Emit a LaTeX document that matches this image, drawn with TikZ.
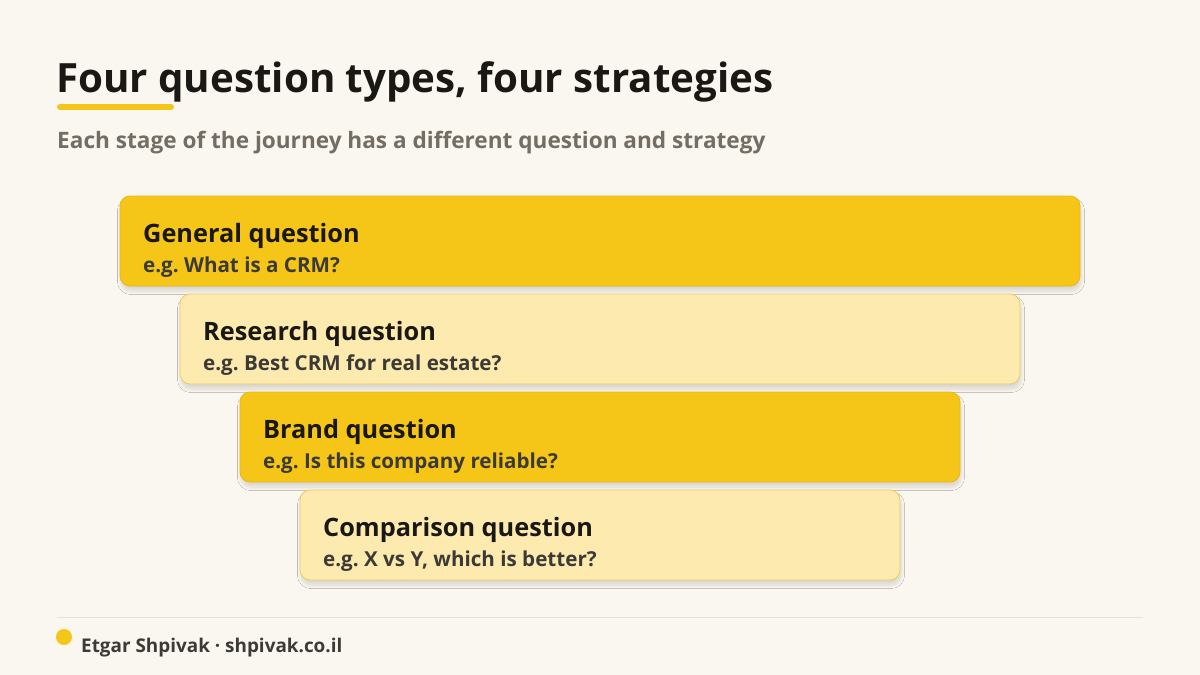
\documentclass[tikz,border=0pt]{standalone}
\usepackage{fontspec}
\setmainfont{Open Sans}
\usetikzlibrary{shadows.blur}
\frenchspacing
\definecolor{bg}{HTML}{FAF7F0}
\definecolor{gold}{HTML}{F5C518}
\definecolor{goldedge}{HTML}{E9B915}
\definecolor{pale}{HTML}{FCEAAF}
\definecolor{paleedge}{HTML}{EBCB63}
\definecolor{ink}{HTML}{1A1814}
\definecolor{subink}{HTML}{3C3A36}
\definecolor{muted}{HTML}{736D63}
\definecolor{rule}{HTML}{E6E1D8}
\tikzset{
  stagebox/.style={rounded corners=10pt, line width=0.8pt, blur shadow={shadow xshift=1pt, shadow yshift=-5pt, shadow blur steps=10, shadow opacity=13, shadow blur radius=3.5pt}},
  darkbox/.style={stagebox, fill=gold, draw=goldedge},
  lightbox/.style={stagebox, fill=pale, draw=paleedge},
  headtxt/.style={anchor=base west, inner sep=0pt, text=ink, font=\bfseries\fontsize{25.3}{30}\selectfont},
  subtxt/.style={anchor=base west, inner sep=0pt, text=subink, font=\bfseries\fontsize{20.6}{25}\selectfont},
}
\begin{document}
\begin{tikzpicture}[x=1pt,y=-1pt]
\fill[bg] (0,0) rectangle (1200,675);
\useasboundingbox (0,0) rectangle (1200,675);
% title
\node[anchor=base west, inner sep=0pt, text=ink, font=\bfseries\fontsize{40.3}{46}\selectfont] (title) at (56,92) {Four question types, four strategies};
\coordinate (ulA) at (60,107);
\coordinate (ulB) at (171,107);
\draw[gold, line width=6pt, line cap=round] (ulA) -- (ulB);
\node[anchor=base west, inner sep=0pt, text=muted, font=\bfseries\fontsize{22.6}{26}\selectfont] (subtitle) at (57,148) {Each stage of the journey has a different question and strategy};
% boxes
\path[darkbox] (120,196) rectangle (1080,286);
\node[headtxt] (h1) at (143,242) {General question};
\node[subtxt] (s1) at (143,272) {e.g. What is a CRM?};
\path[lightbox] (180,294) rectangle (1020,384);
\node[headtxt] (h2) at (203,340) {Research question};
\node[subtxt] (s2) at (203,370) {e.g. Best CRM for real estate?};
\path[darkbox] (240,392) rectangle (960,482);
\node[headtxt] (h3) at (263,438) {Brand question};
\node[subtxt] (s3) at (263,468) {e.g. Is this company reliable?};
\path[lightbox] (300,490) rectangle (900,580);
\node[headtxt] (h4) at (323,536) {Comparison question};
\node[subtxt] (s4) at (323,566) {e.g. X vs Y, which is better?};
% footer
\coordinate (fA) at (57,617);
\coordinate (fB) at (1143,617);
\draw[rule, line width=1pt] (fA) -- (fB);
\fill[gold] (64,637) circle (8);
\node[anchor=base west, inner sep=0pt, text=subink, font=\bfseries\fontsize{18.9}{22}\selectfont] (foot) at (81,652) {Etgar Shpivak · shpivak.co.il};
\end{tikzpicture}
\end{document}
